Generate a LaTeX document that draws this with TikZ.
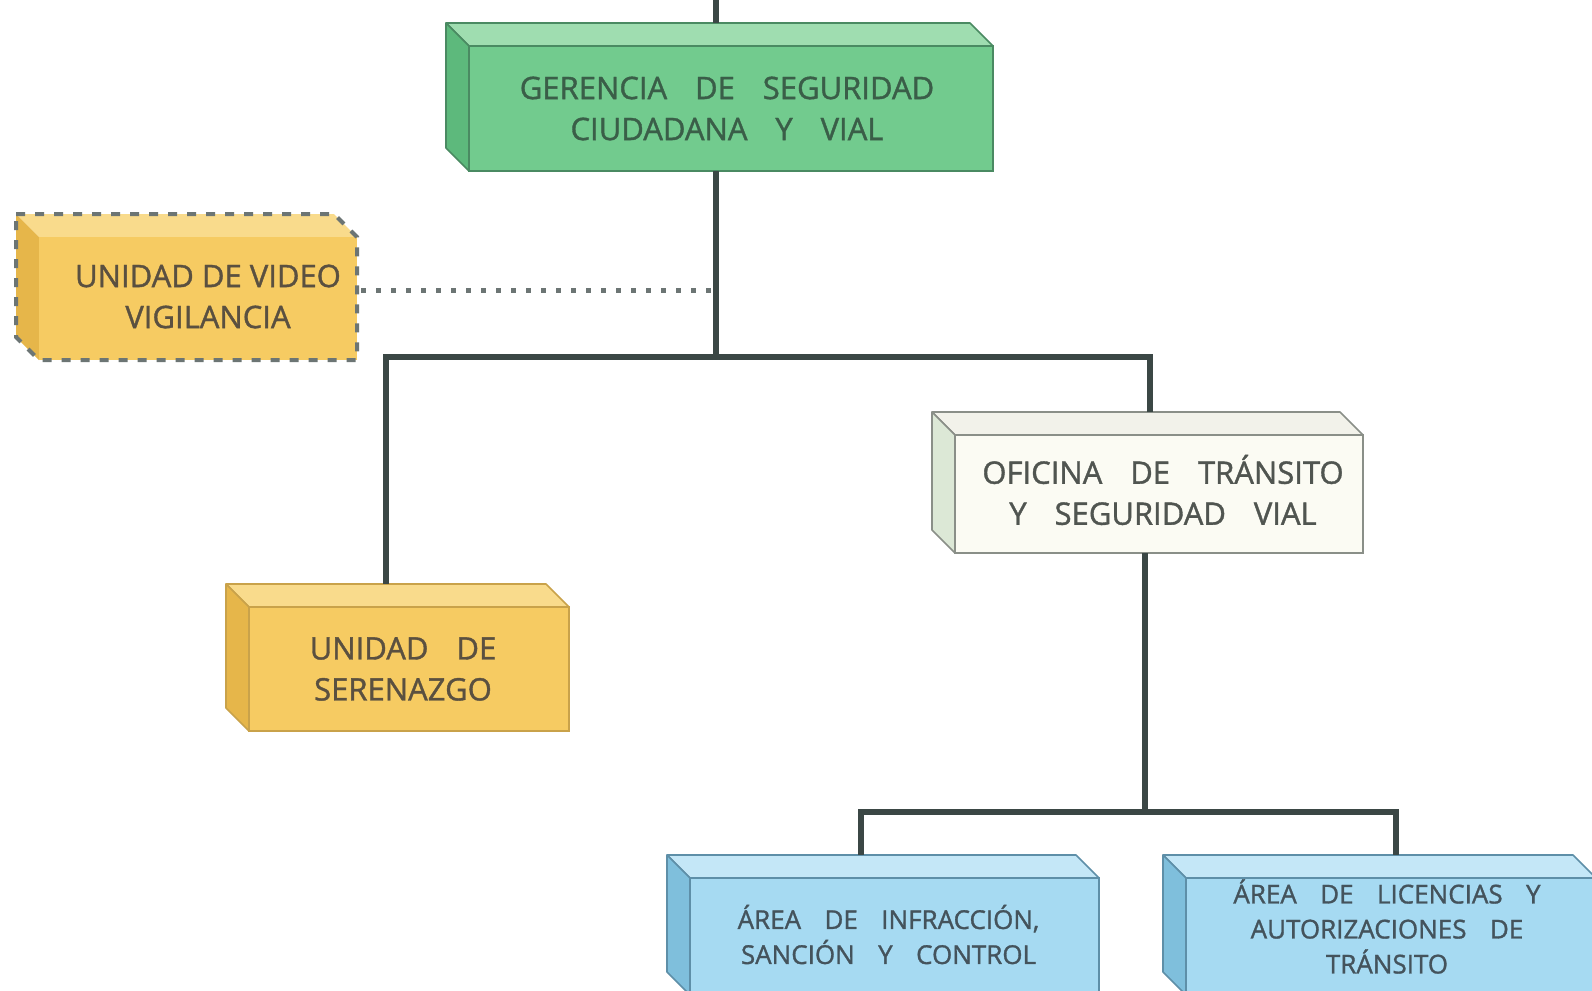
\documentclass[tikz,border=0pt]{standalone}
\usepackage{fontspec}
\setmainfont{Open Sans}[FakeBold=1.2]
\usetikzlibrary{calc}
\definecolor{grnF}{HTML}{72CB8E}\definecolor{grnT}{HTML}{9FDDB0}\definecolor{grnS}{HTML}{5DB97C}\definecolor{grnE}{HTML}{4A8A62}\definecolor{grnX}{HTML}{3A5E48}
\definecolor{ylwF}{HTML}{F6CB62}\definecolor{ylwT}{HTML}{F9DB8C}\definecolor{ylwS}{HTML}{E6B64A}\definecolor{ylwE}{HTML}{C9A24A}\definecolor{ylwX}{HTML}{5A5040}
\definecolor{whtF}{HTML}{FBFBF3}\definecolor{whtT}{HTML}{F2F2EA}\definecolor{whtS}{HTML}{DCE8D6}\definecolor{whtE}{HTML}{8A8F88}\definecolor{whtX}{HTML}{505550}
\definecolor{bluF}{HTML}{A6DAF2}\definecolor{bluT}{HTML}{C4E7F7}\definecolor{bluS}{HTML}{7FBFDC}\definecolor{bluE}{HTML}{5E8FA8}\definecolor{bluX}{HTML}{44535C}
\definecolor{connC}{HTML}{3B4745}
\newcommand\ws{\hspace{0.9em}}
% #1 colour prefix, #2 name, #3 x1, #4 y1, #5 x2, #6 y2, #7 text options, #8 text
\newcommand\tdbox[8]{%
  \filldraw[fill=#1T, draw=#1E, line width=0.8pt, line join=round] (#3,#4) -- ++(-23,-23) -- ({#5-23},{#4-23}) -- (#5,#4) -- cycle;
  \filldraw[fill=#1S, draw=#1E, line width=0.8pt, line join=round] (#3,#4) -- ++(-23,-23) -- ({#3-23},{#6-23}) -- (#3,#6) -- cycle;
  \node[fill=#1F, draw=#1E, line width=0.8pt, inner sep=0pt, outer sep=0pt,
        minimum width={(#5-#3)*0.5pt}, minimum height={(#6-#4)*0.5pt}] (#2) at ({(#3+#5)/2},{(#4+#6)/2}) {};
  \node[text=#1X, align=center, #7] (#2-txt) at (#2.center) {#8};
  \coordinate (#2-back) at ($(#2.north)+(0,-23)$);
}
\tikzset{conn/.style={draw=connC, line width=2.8pt},
  big/.style={font=\fontsize{15.5}{20.5}\selectfont},
  small/.style={font=\fontsize{13}{17.5}\selectfont}}
\begin{document}
\begin{tikzpicture}[x=0.5pt,y=-0.5pt]
\useasboundingbox[fill=white] (0,0) rectangle (1592,991);
% boxes
\tdbox{grn}{g}{469}{46}{993}{171}{big, xshift=-2pt}{GERENCIA\ws DE\ws SEGURIDAD\\CIUDADANA\ws Y\ws VIAL}
% video box (dashed outline)
\fill[ylwT] (39,237) -- (16,214) -- (334,214) -- (357,237) -- cycle;
\fill[ylwS] (39,237) -- (16,214) -- (16,337) -- (39,360) -- cycle;
\node[fill=ylwF, inner sep=0pt, outer sep=0pt, minimum width=159pt, minimum height=61.5pt] (vid) at (198,298.5) {};
\node[text=ylwX, align=center, big, xshift=5pt, yshift=1pt] (vid-txt) at (vid.center) {UNIDAD DE VIDEO\\VIGILANCIA};
\draw[draw=connC!75, line width=2pt, dash pattern=on 4.5pt off 5pt] (16,214) -- (334,214) -- (357,237) -- (357,360) -- (39,360) -- (16,337) -- cycle;
\tdbox{wht}{ofi}{955}{435}{1363}{553}{big, xshift=2pt, yshift=2pt}{OFICINA\ws DE\ws TRÁNSITO\\Y\ws SEGURIDAD\ws VIAL}
\tdbox{ylw}{ser}{249}{607}{569}{731}{big, xshift=-3pt}{UNIDAD\ws DE\\SERENAZGO}
\tdbox{blu}{a1}{690}{878}{1099}{995}{small, xshift=-3pt, yshift=1pt}{ÁREA\ws DE\ws INFRACCIÓN,\\SANCIÓN\ws Y\ws CONTROL}
\tdbox{blu}{a2}{1186}{878}{1596}{995}{small, yshift=5pt, xshift=-2pt}{ÁREA\ws DE\ws LICENCIAS\ws Y\\AUTORIZACIONES\ws DE\\TRÁNSITO}
% connectors
\coordinate (top) at (716,0);
\coordinate (j1) at (716,357);
\coordinate (jl) at (386,357);
\coordinate (jr) at (1150,357);
\coordinate (dv) at (716,290);
\coordinate (j2) at (1145,812);
\coordinate (j2l) at (861,812);
\coordinate (j2r) at (1396,812);
\draw[conn] (top) -- (top |- g-back);
\draw[conn] (top |- g.south) -- (j1);
\draw[conn, line cap=rect] (jl) -- (jr);
\draw[conn] (jl) -- (jl |- ser-back);
\draw[conn] (jr) -- (jr |- ofi-back);
\draw[draw=connC!75, line width=2.5pt, dash pattern=on 2.5pt off 5pt] (dv -| vid.east) ++(4,0) -- (dv);
\draw[conn] (j2 |- ofi.south) -- (j2);
\draw[conn, line cap=rect] (j2l) -- (j2r);
\draw[conn] (j2l) -- (j2l |- a1-back);
\draw[conn] (j2r) -- (j2r |- a2-back);
\end{tikzpicture}
\end{document}
